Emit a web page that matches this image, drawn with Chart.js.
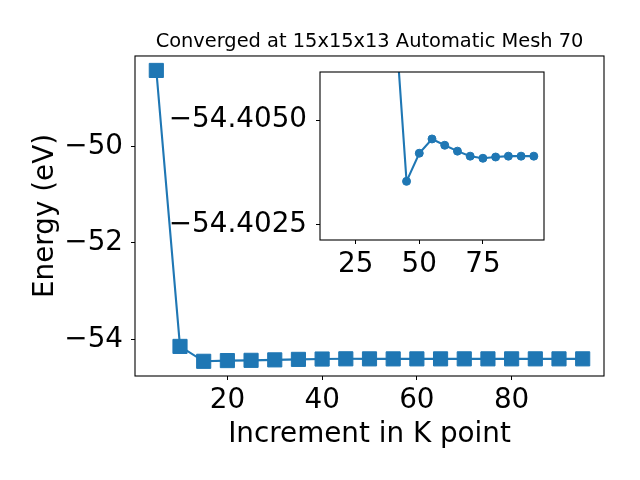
<!DOCTYPE html>
<html><head><meta charset="utf-8">
<script src="https://cdn.jsdelivr.net/npm/chart.js@4/dist/chart.umd.min.js"></script>
<style>
html,body{margin:0;padding:0;background:#fff;}
#wrap{position:relative;width:640px;height:480px;}
canvas{position:absolute;left:0;top:0;}
</style></head><body>
<div id="wrap"><canvas id="main" width="640" height="480"></canvas><canvas id="inset" width="640" height="480"></canvas></div>
<script>
const kPoints = [5,10,15,20,25,30,35,40,45,50,55,60,65,70,75,80,85,90,95];
const energy = [-48.42,-54.146,-54.455,-54.44,-54.435,-54.425,-54.415,-54.4079,-54.40354,-54.40421,-54.40455,-54.40440,-54.40426,-54.40414,-54.40409,-54.40412,-54.40414,-54.40414,-54.40414];
const insetStart = 2; // inset shows points from K=15 on
const mainXTicks = [20,40,60,80];
const mainYTicks = [-54,-52,-50];
const insetXTicks = [25,50,75];
const insetYTicks = [-54.4050,-54.4025];
const titleText = 'Converged at 15x15x13 Automatic Mesh 70';
const xLabel = 'Increment in K point';
const yLabel = 'Energy (eV)';

const BLUE = '#1f77b4';
const FONT = 'DejaVu Sans';
const BIG = 27.8;
const minus = s => String(s).replace('-', '\u2212');

const framePlugin = {
  id: 'frame',
  beforeDatasetsDraw(chart) {
    const a = chart.chartArea, c = chart.ctx;
    if (chart.canvas.id === 'inset') {
      c.save(); c.fillStyle = '#fff'; c.fillRect(a.left, a.top, a.right - a.left, a.bottom - a.top); c.restore();
    }
  },
  afterDraw(chart) {
    const a = chart.chartArea, c = chart.ctx;
    c.save(); c.strokeStyle = '#000'; c.lineWidth = 1.1;
    c.strokeRect(a.left, a.top, a.right - a.left, a.bottom - a.top);
    c.restore();
  }
};

function pts(from) {
  const out = [];
  for (let i = from; i < kPoints.length; i++) out.push({x: kPoints[i], y: energy[i]});
  return out;
}
const gridOpts = {display: true, drawOnChartArea: false, drawTicks: true, tickLength: 4, color: '#000', lineWidth: 1};

new Chart(document.getElementById('main'), {
  type: 'line',
  data: {datasets: [{data: pts(0), borderColor: BLUE, backgroundColor: BLUE, borderWidth: 2.1,
    pointStyle: 'rect', pointRadius: 10, pointBorderWidth: 1, pointBorderColor: BLUE, pointBackgroundColor: BLUE, tension: 0}]},
  options: {
    responsive: false, animation: false, devicePixelRatio: 1,
    layout: {padding: {left: 0, right: 36, top: 0, bottom: 0}},
    plugins: {
      legend: {display: false}, tooltip: {enabled: false},
      title: {display: true, text: titleText, fullSize: false, color: '#000',
        font: {family: FONT, size: 19.4, weight: 'normal', lineHeight: 1.2}, padding: {top: 30.4, bottom: 2.3}}
    },
    scales: {
      x: {type: 'linear', min: 0.5, max: 99.5,
        afterFit: s => { s.height = 104; },
        afterBuildTicks: s => { s.ticks = mainXTicks.map(v => ({value: v})); },
        grid: gridOpts, border: {display: false},
        ticks: {color: '#000', font: {family: FONT, size: BIG}, padding: 4, maxRotation: 0, callback: v => minus(v)},
        title: {display: true, text: xLabel, color: '#000', font: {family: FONT, size: BIG, lineHeight: 1.2}, padding: {top: 0, bottom: 28.5}}
      },
      y: {type: 'linear', min: -54.76, max: -48.12,
        afterFit: s => { s.width = 135; },
        afterBuildTicks: s => { s.ticks = mainYTicks.map(v => ({value: v})); },
        grid: gridOpts, border: {display: false},
        ticks: {color: '#000', font: {family: FONT, size: BIG}, padding: 8, callback: v => minus(v)},
        title: {display: true, text: yLabel, color: '#000', font: {family: FONT, size: BIG, lineHeight: 1.2}, padding: {top: 29.3, bottom: 0}}
      }
    }
  },
  plugins: [framePlugin]
});

new Chart(document.getElementById('inset'), {
  type: 'line',
  data: {datasets: [{data: pts(insetStart), borderColor: BLUE, backgroundColor: BLUE, borderWidth: 2.1,
    pointStyle: 'circle', pointRadius: 4, pointBorderWidth: 1, pointBorderColor: BLUE, pointBackgroundColor: BLUE, tension: 0}]},
  options: {
    responsive: false, animation: false, devicePixelRatio: 1,
    layout: {padding: {left: 0, right: 96, top: 72, bottom: 0}},
    plugins: {legend: {display: false}, tooltip: {enabled: false}, title: {display: false}},
    scales: {
      x: {type: 'linear', min: 11, max: 99,
        afterFit: s => { s.height = 240; },
        afterBuildTicks: s => { s.ticks = insetXTicks.map(v => ({value: v})); },
        grid: gridOpts, border: {display: false},
        ticks: {color: '#000', font: {family: FONT, size: BIG}, padding: 4, maxRotation: 0}
      },
      y: {type: 'linear', reverse: true, min: -54.406146, max: -54.402142,
        afterFit: s => { s.width = 320; },
        afterBuildTicks: s => { s.ticks = insetYTicks.map(v => ({value: v})); },
        grid: gridOpts, border: {display: false},
        ticks: {color: '#000', font: {family: FONT, size: BIG}, padding: 9, callback: v => minus(Number(v).toFixed(4))}
      }
    }
  },
  plugins: [framePlugin]
});
</script>
</body></html>
